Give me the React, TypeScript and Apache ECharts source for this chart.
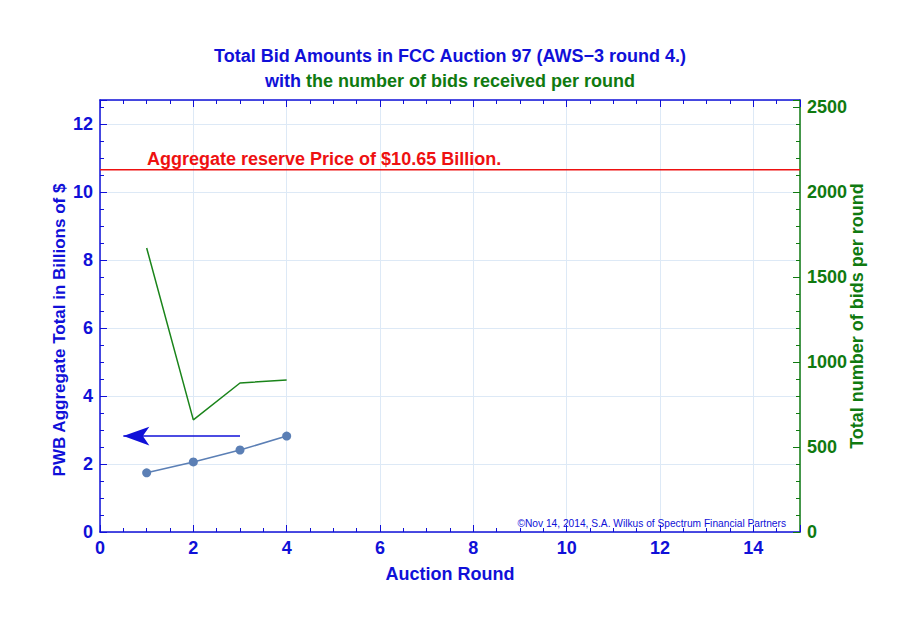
import React, { useEffect, useRef } from "react";
import * as echarts from "echarts";

const rounds = [1, 2, 3, 4];
const totalBillions = [1.74, 2.06, 2.41, 2.82];
const bidsPerRound = [1670, 659, 876, 894];
const xRange = [0, 15];
const reservePrice = 10.65;
const arrowFrom = [3, 2.82];
const arrowTo = [0.5, 2.82];

const titleText = "Total Bid Amounts in FCC Auction 97 (AWS\u22123 round 4.)";
const reserveLabel = "Aggregate reserve Price of $10.65 Billion.";
const copyright = "\u00A9Nov 14, 2014, S.A. Wilkus of Spectrum Financial Partners";

const BLUE = "#1010d8";
const GREEN = "#107a10";
const RED = "#ee1111";
const GRID = "#dde9f6";
const FONT = "'Liberation Sans', Arial, sans-serif";

export default function App() {
  const ref = useRef<HTMLDivElement>(null);
  useEffect(() => {
    if (!ref.current) return;
    const chart = echarts.init(ref.current, null, { renderer: "svg" });
    const tickCommon = { inside: true, length: 7 };
    const lbl = (color: string) => ({
      color,
      fontSize: 18,
      fontWeight: "bold",
      fontFamily: FONT,
      showMaxLabel: false,
      formatter: (v: number) => String(v),
    });
    chart.setOption({
      animation: false,
      textStyle: { fontFamily: FONT },
      title: {
        left: "center",
        top: 42,
        text: titleText,
        textStyle: { color: BLUE, fontSize: 18, fontWeight: "bold", fontFamily: FONT },
        subtext: "{b|with }{g|the number of bids received per round}",
        itemGap: 7,
        subtextStyle: {
          rich: {
            b: { color: BLUE, fontSize: 18, fontWeight: "bold", fontFamily: FONT },
            g: { color: GREEN, fontSize: 18, fontWeight: "bold", fontFamily: FONT },
          },
        },
      },
      grid: { left: 100, right: 100, top: 100, bottom: 101 },
      xAxis: [
        {
          type: "value",
          min: xRange[0],
          max: xRange[1],
          interval: 2,
          name: "Auction Round",
          nameLocation: "middle",
          nameGap: 33,
          nameMoveOverlap: false,
          nameTextStyle: { color: BLUE, fontSize: 18, fontWeight: "bold", fontFamily: FONT },
          axisLine: { show: true, onZero: false, lineStyle: { color: BLUE, width: 1.5 } },
          axisTick: { ...tickCommon, lineStyle: { color: BLUE } },
          minorTick: { show: true, splitNumber: 4, length: 4, lineStyle: { color: BLUE } },
          axisLabel: { ...lbl(BLUE), margin: 7 },
          splitLine: { show: true, lineStyle: { color: GRID, width: 1 } },
        },
        {
          type: "value",
          position: "top",
          min: xRange[0],
          max: xRange[1],
          interval: 2,
          axisLine: { show: true, onZero: false, lineStyle: { color: BLUE, width: 1.5 } },
          axisTick: { ...tickCommon, lineStyle: { color: BLUE } },
          minorTick: { show: true, splitNumber: 4, length: 4, lineStyle: { color: BLUE } },
          axisLabel: { show: false },
          splitLine: { show: false },
        },
      ],
      yAxis: [
        {
          type: "value",
          min: 0,
          max: 12.7,
          interval: 2,
          name: "PWB Aggregate Total in Billions of $",
          nameLocation: "middle",
          nameRotate: 90,
          nameGap: 32,
          nameMoveOverlap: false,
          nameTextStyle: {
            color: BLUE,
            fontSize: 17,
            fontWeight: "bold",
            fontFamily: FONT,
            padding: [0, 28, 0, 0],
          },
          axisLine: { show: true, onZero: false, lineStyle: { color: BLUE, width: 1.5 } },
          axisTick: { ...tickCommon, lineStyle: { color: BLUE } },
          minorTick: { show: true, splitNumber: 4, length: 4, lineStyle: { color: BLUE } },
          axisLabel: { ...lbl(BLUE), margin: 7 },
          splitLine: { show: true, lineStyle: { color: GRID, width: 1 } },
        },
        {
          type: "value",
          position: "right",
          min: 0,
          max: 2540,
          interval: 500,
          name: "Total number of bids per round",
          nameLocation: "middle",
          nameRotate: 90,
          nameGap: 48,
          nameMoveOverlap: false,
          nameTextStyle: { color: GREEN, fontSize: 18, fontWeight: "bold", fontFamily: FONT },
          axisLine: { show: true, onZero: false, lineStyle: { color: GREEN, width: 1.5 } },
          axisTick: { ...tickCommon, lineStyle: { color: GREEN } },
          minorTick: { show: true, splitNumber: 5, length: 4, lineStyle: { color: GREEN } },
          axisLabel: { ...lbl(GREEN), margin: 7 },
          splitLine: { show: false },
        },
      ],
      series: [
        {
          type: "line",
          name: "Reserve",
          xAxisIndex: 0,
          yAxisIndex: 0,
          color: RED,
          data: xRange.map((x) => [x, reservePrice]),
          symbol: "none",
          lineStyle: { color: RED, width: 1.4 },
          z: 2,
        },
        {
          type: "line",
          name: "Total",
          xAxisIndex: 0,
          yAxisIndex: 0,
          data: rounds.map((r, i) => [r, totalBillions[i]]),
          symbol: "circle",
          symbolSize: 9,
          itemStyle: { color: "#5b7fb5" },
          lineStyle: { color: "#5b7fb5", width: 1.6 },
          z: 4,
        },
        {
          type: "line",
          name: "Bids",
          xAxisIndex: 0,
          yAxisIndex: 1,
          data: rounds.map((r, i) => [r, bidsPerRound[i]]),
          symbol: "none",
          lineStyle: { color: "#1a841a", width: 1.5 },
          z: 3,
        },
        {
          type: "line",
          name: "Arrow",
          xAxisIndex: 0,
          yAxisIndex: 0,
          color: BLUE,
          data: [],
          markLine: {
            silent: true,
            lineStyle: { color: BLUE, width: 1.5, type: "solid" },
            label: { show: false },
            data: [
              [
                { coord: arrowFrom, symbol: "none" },
                { coord: arrowTo, symbol: "arrow", symbolSize: [14, 26] },
              ],
            ],
          },
        },
      ],
      graphic: [
        {
          type: "text",
          left: 147,
          top: 150,
          z: 100,
          style: {
            text: reserveLabel,
            fill: RED,
            fontSize: 18,
            fontWeight: "bold",
            fontFamily: FONT,
          },
        },
        {
          type: "text",
          right: 114,
          top: 518,
          z: 100,
          style: {
            text: copyright,
            fill: BLUE,
            fontSize: 10.2,
            fontFamily: FONT,
          },
        },
      ],
    });
    return () => chart.dispose();
  }, []);
  return (
    <div
      ref={ref}
      style={{ position: "fixed", left: 0, top: 0, width: 900, height: 633, background: "#fff" }}
    />
  );
}
